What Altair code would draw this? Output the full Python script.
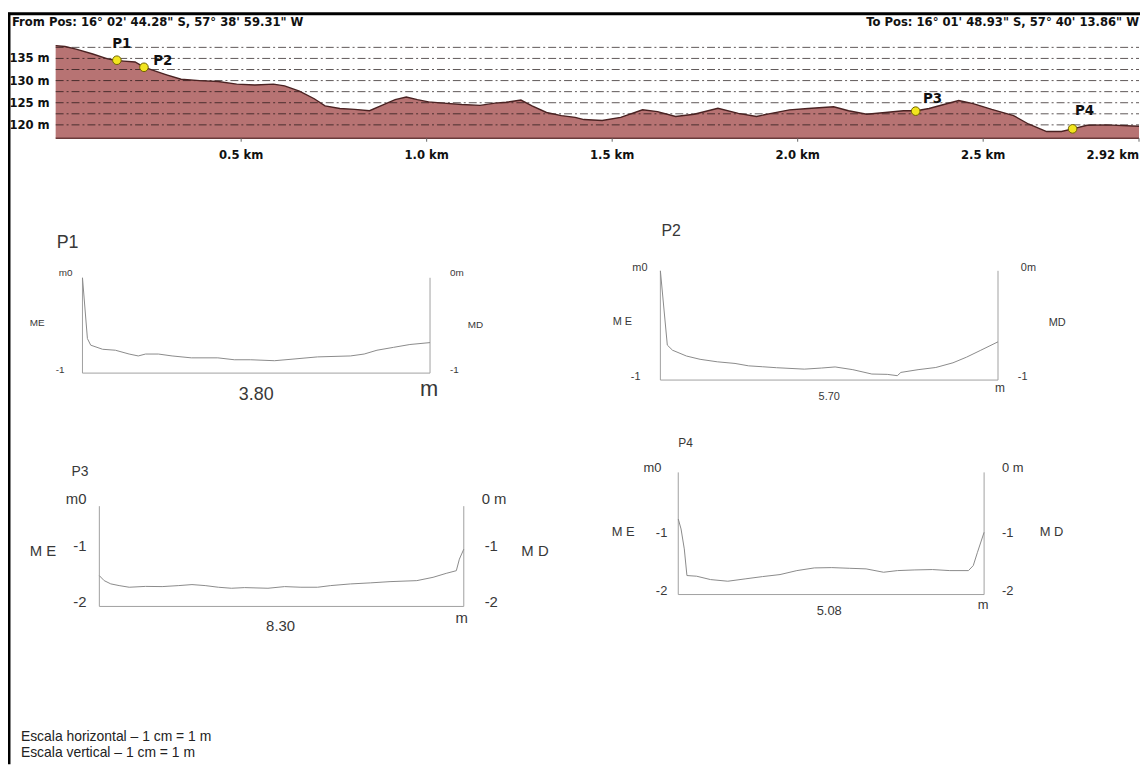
import altair as alt
import pandas as pd

# ---------------- data: long profile ----------------
prof_km = [0, 0.025, 0.055, 0.10, 0.14, 0.16, 0.184, 0.214, 0.237, 0.259, 0.299, 0.338,
           0.388, 0.438, 0.488, 0.537, 0.587, 0.617, 0.657, 0.697, 0.726, 0.766, 0.806,
           0.846, 0.876, 0.915, 0.945, 0.975, 1.005, 1.045, 1.095, 1.144, 1.184, 1.214,
           1.254, 1.284, 1.323, 1.363, 1.40, 1.424, 1.473, 1.523, 1.582, 1.622, 1.671,
           1.721, 1.785, 1.84, 1.889, 1.929, 1.978, 2.028, 2.097, 2.137, 2.186, 2.236,
           2.285, 2.32, 2.354, 2.394, 2.434, 2.473, 2.523, 2.582, 2.622, 2.671, 2.711,
           2.741, 2.78, 2.83, 2.92]
prof_elev = [137.9, 137.7, 137.1, 136.0, 134.9, 134.6, 134.4, 134.2, 133.1, 132.4, 131.3, 130.3,
             130.0, 129.8, 129.2, 129.0, 129.2, 128.8, 127.6, 125.9, 124.3, 123.7, 123.5,
             123.2, 124.3, 125.7, 126.3, 125.7, 125.2, 124.9, 124.6, 124.4, 124.9, 125.1,
             125.6, 124.3, 122.8, 122.1, 121.7, 121.2, 121.0, 121.7, 123.4, 123.0, 121.9,
             122.4, 123.75, 122.6, 121.9, 122.6, 123.4, 123.7, 124.1, 123.2, 122.4, 122.8,
             123.2, 123.2, 123.7, 124.6, 125.5, 124.8, 123.5, 122.1, 120.2, 118.5, 118.5,
             119.1, 119.9, 120.0, 119.7]
grid_elev = [120, 122.5, 125, 127.5, 130, 132.5, 135, 137.5]
ytick_vals = [120, 125, 130, 135]
ytick_text = ["120 m", "125 m", "130 m", "135 m"]
xtick_vals = [0.5, 1.0, 1.5, 2.0, 2.5]
xtick_text = ["0.5 km", "1.0 km", "1.5 km", "2.0 km", "2.5 km"]
xend_val = [2.92]
xend_text = ["2.92 km"]
pt_names = ["P1", "P2", "P3", "P4"]
pt_km = [0.165, 0.238, 2.318, 2.741]
pt_elev = [134.6, 133.0, 123.1, 119.1]
header_from = "From Pos: 16° 02' 44.28\" S, 57° 38' 59.31\" W"
header_to = "To Pos: 16° 01' 48.93\" S, 57° 40' 13.86\" W"

# ---------------- data: cross sections ----------------
p1_x = [0, 0.054, 0.09, 0.22, 0.36, 0.51, 0.61, 0.69, 0.83, 0.98, 1.19, 1.48, 1.66, 1.84,
        2.10, 2.28, 2.57, 2.93, 3.08, 3.22, 3.40, 3.58, 3.80]
p1_y = [0, -0.638, -0.707, -0.75, -0.76, -0.80, -0.82, -0.80, -0.80, -0.82, -0.84, -0.84,
        -0.86, -0.86, -0.87, -0.855, -0.83, -0.82, -0.80, -0.76, -0.73, -0.70, -0.68]
p2_x = [0, 0.117, 0.205, 0.44, 0.67, 0.96, 1.26, 1.49, 1.72, 1.96, 2.43, 2.72, 2.95, 3.25,
        3.57, 3.83, 4.0, 4.06, 4.35, 4.65, 4.94, 5.17, 5.41, 5.70]
p2_y = [0, -0.68, -0.727, -0.78, -0.81, -0.833, -0.848, -0.87, -0.878, -0.887, -0.90, -0.89,
        -0.88, -0.905, -0.945, -0.948, -0.96, -0.93, -0.905, -0.885, -0.842, -0.79, -0.727, -0.65]
p3_x = [0, 0.11, 0.26, 0.45, 0.68, 1.05, 1.43, 1.81, 2.11, 2.41, 2.71, 3.01, 3.31, 3.84,
        4.22, 4.59, 4.97, 5.27, 5.72, 6.17, 6.62, 7.23, 7.60, 7.90, 8.13, 8.20, 8.30]
p3_y = [-1.386, -1.485, -1.55, -1.584, -1.617, -1.60, -1.604, -1.584, -1.564, -1.584, -1.617,
        -1.637, -1.624, -1.637, -1.604, -1.617, -1.617, -1.584, -1.551, -1.53, -1.505, -1.485,
        -1.419, -1.34, -1.287, -1.056, -0.858]
p4_x = [0, 0.046, 0.10, 0.144, 0.305, 0.535, 0.823, 1.11, 1.40, 1.69, 1.97, 2.26, 2.55, 2.84,
        3.12, 3.41, 3.64, 3.93, 4.22, 4.51, 4.82, 4.90, 4.97, 5.08]
p4_y = [-0.763, -0.926, -1.253, -1.689, -1.70, -1.755, -1.782, -1.744, -1.706, -1.673, -1.608,
        -1.564, -1.559, -1.57, -1.58, -1.635, -1.608, -1.597, -1.591, -1.608, -1.608, -1.526,
        -1.308, -0.981]
p_len = [3.80, 5.70, 8.30, 5.08]
p_depth = [-1, -1, -2, -2]
p1_text = ["P1", "m0", "-1", "ME", "0m", "-1", "MD", "3.80", "m"]
p2_text = ["P2", "m0", "-1", "M E", "0m", "-1", "MD", "5.70", "m"]
p3_text = ["P3", "m0", "-1", "-2", "M E", "0 m", "-1", "-2", "M D", "8.30", "m"]
p4_text = ["P4", "m0", "-1", "-2", "M E", "0 m", "-1", "-2", "M D", "5.08", "m"]
caption = ["Escala horizontal  \u2013 1 cm = 1 m", "Escala vertical \u2013 1 cm = 1 m"]

# ---------------- layout / style (not data) ----------------
W, H = 1140, 759
NARROW = "Liberation Sans Narrow, Arial Narrow, DejaVu Sans Condensed, sans-serif"
SANS = "Liberation Sans, Arial, Helvetica, sans-serif"
TXT = "#383838"

# anchor code, dx, dy, fontSize, align
p1_lay = [("tl", -26, -35, 18, "left"), ("tl", -10, -5, 10, "right"), ("bl", -18, -3, 10, "right"),
          ("ml", -53, -2, 10, "left"), ("tr", 20, -5, 10, "left"), ("br", 20, -3, 10, "left"),
          ("mr", 38, 0, 10, "left"), ("bc", 0, 22, 18, "center"), ("br", -1, 16, 22, "center")]
p2_lay = [("tl", 1, -40, 16, "left"), ("tl", -13, -3, 11, "right"), ("bl", -20, -3, 11, "right"),
          ("ml", -48, -3, 11, "left"), ("tr", 23, -3, 11, "left"), ("br", 20, -3, 11, "left"),
          ("mr", 51, -2, 11, "left"), ("bc", 0, 17, 11, "center"), ("br", 2, 8, 12, "center")]
p3_lay = [("tl", -28, -34, 14, "left"), ("tl", -13, -7, 15, "right"), ("ml", -13, -10, 15, "right"),
          ("bl", -13, -4, 15, "right"), ("ml", -70, -5.5, 15, "left"), ("tr", 18, -7, 15, "left"),
          ("mr", 21, -10, 15, "left"), ("br", 21, -4, 15, "left"), ("mr", 58, -5.5, 15, "left"),
          ("bc", -1, 20, 15, "center"), ("br", -2, 12, 15, "center")]
p4_lay = [("tl", 0, -30, 12, "left"), ("tl", -17, -4, 13, "right"), ("ml", -11, -0.5, 13, "right"),
          ("bl", -11, -4, 13, "right"), ("ml", -67, -1.5, 13, "left"), ("tr", 18, -4, 13, "left"),
          ("mr", 18, -0.5, 13, "left"), ("br", 18, -4, 13, "left"), ("mr", 56, -1.5, 13, "left"),
          ("bc", -2, 17, 13, "center"), ("br", -1, 11, 13, "center")]
p_xrange = [[75, 425], [657, 997], [92, 459], [675, 983]]
p_yrange = [[365, 269], [372, 262], [600, 499], [588, 465]]
pt_label_off = [(5, -17), (19, -7), (17, -13), (12, -19)]


def enc(chart, xs, ys, xf="x", yf="y"):
    return chart.encode(
        x=alt.X(f"{xf}:Q", scale=xs, axis=None),
        y=alt.Y(f"{yf}:Q", scale=ys, axis=None),
    )


def text_layer(xv, yv, tv, xs, ys, **kw):
    df = pd.DataFrame({"x": xv, "y": yv, "t": tv})
    return enc(alt.Chart(df).mark_text(**kw), xs, ys).encode(text="t:N")


# ---------------- top profile ----------------
xs_top = alt.Scale(domain=[0, 2.92], range=[48, 1139], nice=False, zero=False)
ys_top = alt.Scale(domain=[117, 138.5], range=[128.4, 32.5], nice=False, zero=False)
prof_df = pd.DataFrame({"x": prof_km, "y": prof_elev})

area = enc(alt.Chart(prof_df).mark_area(color="#b77373", opacity=1), xs_top, ys_top).encode(
    y2=alt.datum(117))
grid = enc(alt.Chart(pd.DataFrame({"x": [0] * len(grid_elev), "x2": [2.92] * len(grid_elev),
                                   "y": grid_elev})).mark_rule(
    color="#1a1010", opacity=0.7, strokeWidth=1, strokeDash=[8, 3, 2, 3]), xs_top, ys_top).encode(x2="x2:Q")
pline = enc(alt.Chart(prof_df).mark_line(color="#4a2222", strokeWidth=1.4), xs_top, ys_top)
base = enc(alt.Chart(pd.DataFrame({"x": [0], "x2": [2.92], "y": [117]})).mark_rule(
    color="#6a3a3a", strokeWidth=1.5), xs_top, ys_top).encode(x2="x2:Q")
ticks = enc(alt.Chart(pd.DataFrame({"x": xtick_vals + xend_val, "y": [117] * 6, "y2": [116.2] * 6})).mark_rule(
    color="#666", strokeWidth=1), xs_top, ys_top).encode(y2="y2:Q")
xlab = text_layer(xtick_vals, [117] * len(xtick_vals), xtick_text, xs_top, ys_top,
                  dy=17, fontSize=13, fontWeight="bold", font=NARROW, color="#111", align="center")
xlab_end = text_layer(xend_val, [117], xend_text, xs_top, ys_top,
                      dy=17, fontSize=13, fontWeight="bold", font=NARROW, color="#111", align="right")
ylab = text_layer([0] * len(ytick_vals), ytick_vals, ytick_text, xs_top, ys_top,
                  dx=-6, fontSize=13, fontWeight="bold", font=NARROW, color="#111", align="right")
hdr_l = text_layer([0], [138.5], [header_from], xs_top, ys_top, dx=-44, dy=-21.5, fontSize=13,
                   fontWeight="bold", font=NARROW, color="#111", align="left")
hdr_r = text_layer([2.92], [138.5], [header_to], xs_top, ys_top, dx=0, dy=-21.5, fontSize=13,
                   fontWeight="bold", font=NARROW, color="#111", align="right")
dots = enc(alt.Chart(pd.DataFrame({"x": pt_km, "y": pt_elev})).mark_circle(
    size=75, color="#f2e51e", opacity=1, stroke="#6f6200", strokeWidth=1), xs_top, ys_top)
pt_labels = [text_layer([pt_km[i]], [pt_elev[i]], [pt_names[i]], xs_top, ys_top,
                        dx=pt_label_off[i][0], dy=pt_label_off[i][1], fontSize=15,
                        fontWeight="bold", font=NARROW, color="#111", align="center")
             for i in range(4)]
top = alt.layer(area, grid, pline, base, ticks, xlab, xlab_end, ylab, hdr_l, hdr_r, dots, *pt_labels)


# ---------------- cross-section panels ----------------
def panel(xd, yd, L, ymin, xr, yr, texts, lay):
    xs = alt.Scale(domain=[0, L], range=xr, nice=False, zero=False)
    ys = alt.Scale(domain=[ymin, 0], range=yr, nice=False, zero=False)
    line = enc(alt.Chart(pd.DataFrame({"x": xd, "y": yd})).mark_line(
        color="#8a8a8a", strokeWidth=1), xs, ys)
    frame = enc(alt.Chart(pd.DataFrame({"x": [0, L, 0], "x2": [0, L, L],
                                        "y": [0, 0, ymin], "y2": [ymin, ymin, ymin]})).mark_rule(
        color="#a0a0a0", strokeWidth=1), xs, ys).encode(x2="x2:Q", y2="y2:Q")
    anchors = {"tl": (0, 0), "bl": (0, ymin), "ml": (0, ymin / 2), "tr": (L, 0),
               "br": (L, ymin), "mr": (L, ymin / 2), "bc": (L / 2, ymin)}
    labs = []
    for t, (a, dx, dy, fs, al) in zip(texts, lay):
        ax, ay = anchors[a]
        labs.append(text_layer([ax], [ay], [t], xs, ys, dx=dx, dy=dy, fontSize=fs,
                               font=SANS, color=TXT, align=al))
    return alt.layer(frame, line, *labs)


pan1 = panel(p1_x, p1_y, p_len[0], p_depth[0], p_xrange[0], p_yrange[0], p1_text, p1_lay)
pan2 = panel(p2_x, p2_y, p_len[1], p_depth[1], p_xrange[1], p_yrange[1], p2_text, p2_lay)
pan3 = panel(p3_x, p3_y, p_len[2], p_depth[2], p_xrange[2], p_yrange[2], p3_text, p3_lay)
pan4 = panel(p4_x, p4_y, p_len[3], p_depth[3], p_xrange[3], p_yrange[3], p4_text, p4_lay)

# ---------------- frame & caption (decoration) ----------------
frame_top = alt.Chart(pd.DataFrame({"a": [0]})).mark_rule(color="#000", strokeWidth=3).encode(
    x=alt.value(0), x2=alt.value(W), y=alt.value(3))
frame_left = alt.Chart(pd.DataFrame({"a": [0]})).mark_rule(color="#000", strokeWidth=3).encode(
    x=alt.value(1), y=alt.value(2), y2=alt.value(H))
cap1 = alt.Chart(pd.DataFrame({"t": [caption[0]]})).mark_text(
    align="left", fontSize=14, font=SANS, color="#222").encode(x=alt.value(13), y=alt.value(731), text="t:N")
cap2 = alt.Chart(pd.DataFrame({"t": [caption[1]]})).mark_text(
    align="left", fontSize=14, font=SANS, color="#222").encode(x=alt.value(13), y=alt.value(748), text="t:N")

chart = alt.layer(top, pan1, pan2, pan3, pan4, frame_top, frame_left, cap1, cap2).resolve_scale(
    x="independent", y="independent"
).properties(
    width=W, height=H, autosize=alt.AutoSizeParams(type="none"), padding=0, background="white"
).configure_view(stroke=None)

chart.save("out.html", embed_options={"renderer": "svg", "actions": False})
